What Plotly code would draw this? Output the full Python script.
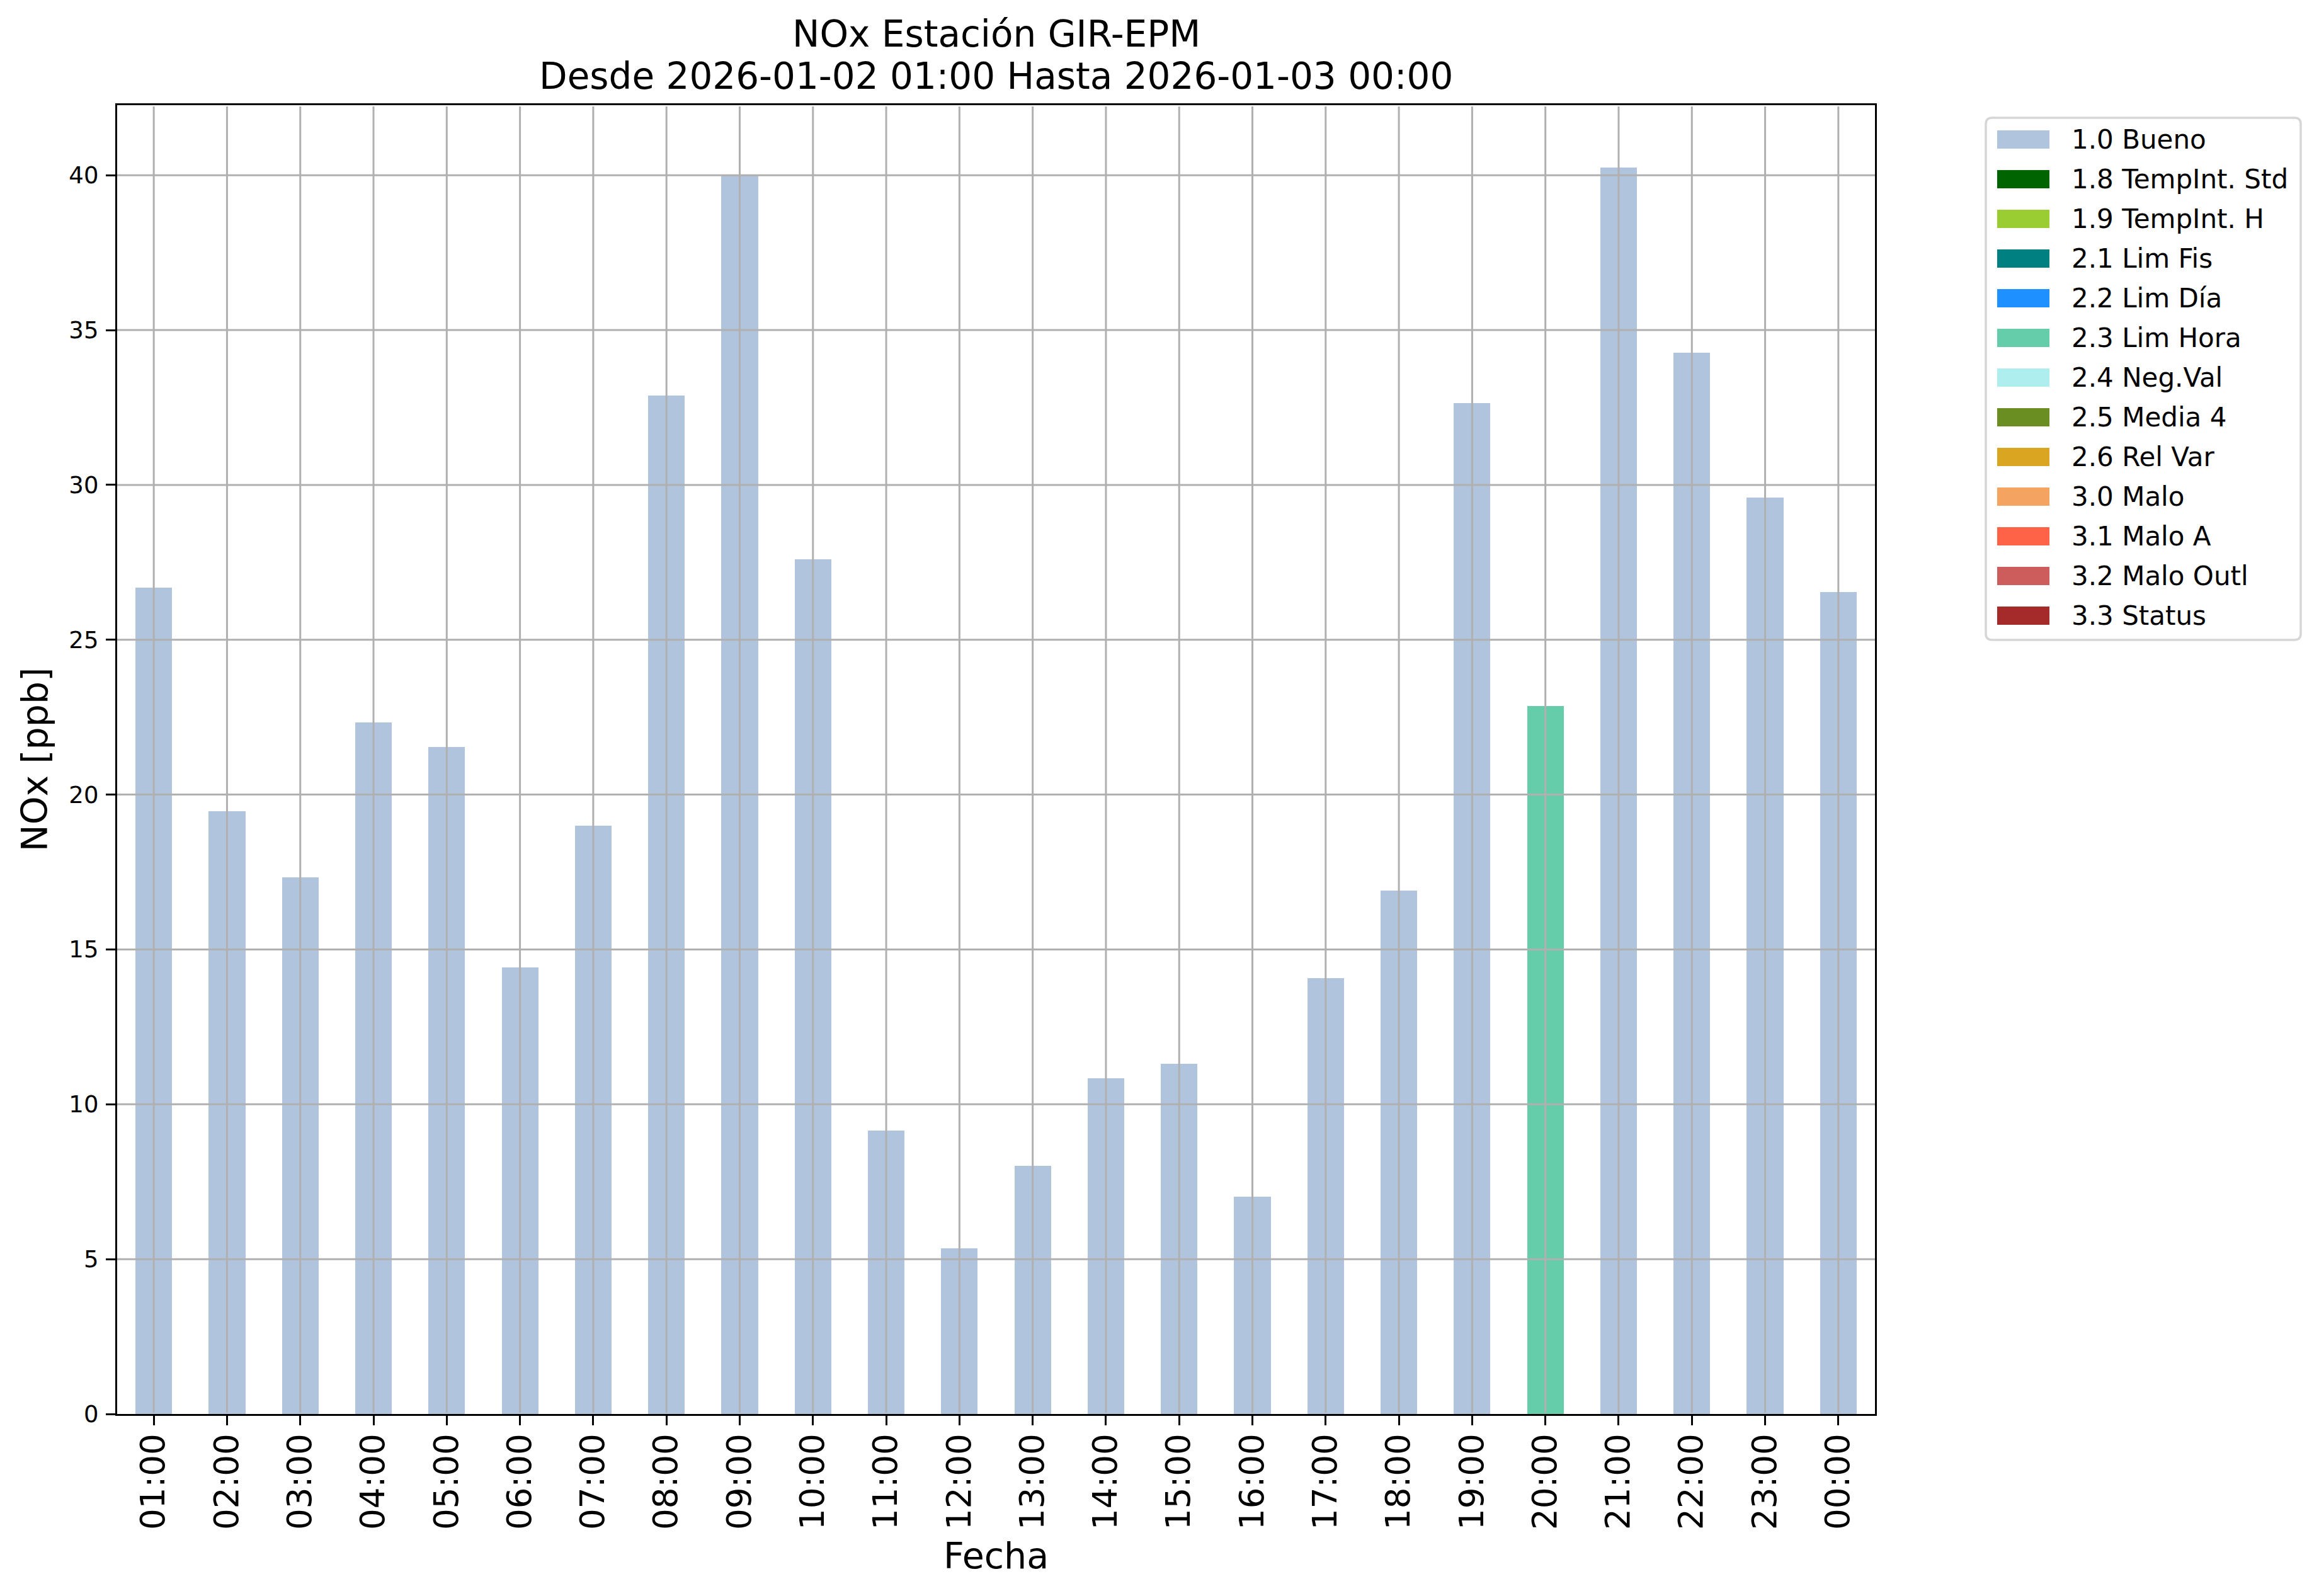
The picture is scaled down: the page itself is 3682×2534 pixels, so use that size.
import plotly.graph_objects as go

# ---------------- data ----------------
hours = ["01:00", "02:00", "03:00", "04:00", "05:00", "06:00", "07:00", "08:00",
         "09:00", "10:00", "11:00", "12:00", "13:00", "14:00", "15:00", "16:00",
         "17:00", "18:00", "19:00", "20:00", "21:00", "22:00", "23:00", "00:00"]
nox = [26.68, 19.47, 17.33, 22.34, 21.53, 14.42, 19.00, 32.89,
       40.00, 27.59, 9.16, 5.35, 8.02, 10.84, 11.31, 7.02,
       14.08, 16.90, 32.65, 22.86, 40.25, 34.27, 29.59, 26.54]
flags = ["1.0 Bueno"] * 19 + ["2.3 Lim Hora"] + ["1.0 Bueno"] * 4

categories = ["1.0 Bueno", "1.8 TempInt. Std", "1.9 TempInt. H", "2.1 Lim Fis",
              "2.2 Lim Día", "2.3 Lim Hora", "2.4 Neg.Val", "2.5 Media 4",
              "2.6 Rel Var", "3.0 Malo", "3.1 Malo A", "3.2 Malo Outl", "3.3 Status"]
cat_colors = ["#B0C4DE", "#006400", "#9ACD32", "#008080", "#1E90FF", "#66CDAA",
              "#AFEEEE", "#6B8E23", "#DAA520", "#F4A460", "#FF6347", "#CD5C5C",
              "#A52A2A"]
yticks = [0, 5, 10, 15, 20, 25, 30, 35, 40]

title_line1 = "NOx Estación GIR-EPM"
title_line2 = "Desde 2026-01-02 01:00 Hasta 2026-01-03 00:00"
xlabel = "Fecha"
ylabel = "NOx [ppb]"

# ---------------- geometry (pixels) ----------------
W_FIG, H_FIG = 3682, 2534
L, R, T, B = 186, 2977, 167, 2245
PW, PH = R - L, B - T
FONT = "DejaVu Sans"


def px2x(px):
    return (px - L) / PW


def py2y(py):
    return (B - py) / PH


fig = go.Figure()
for cat, col in zip(categories, cat_colors):
    ys = [v if f == cat else None for v, f in zip(nox, flags)]
    if any(y is not None for y in ys):
        fig.add_trace(go.Bar(x=hours, y=ys, name=cat, width=0.5,
                             marker=dict(color=col, line=dict(width=0)),
                             showlegend=False))

ymax = max(nox) * 1.05

# grid lines drawn above the bars (as in the reference)
grid_col = "#b0b0b0"
inset = 2 / PH
for yv in yticks[1:]:
    fig.add_shape(type="line", xref="paper", yref="y", x0=0, x1=1, y0=yv, y1=yv,
                  line=dict(color=grid_col, width=3), layer="above")
for h in hours:
    fig.add_shape(type="line", xref="x", yref="paper", x0=h, x1=h, y0=inset, y1=1 - inset,
                  line=dict(color=grid_col, width=3), layer="above")

axis_common = dict(showline=True, linecolor="black", linewidth=3.3, mirror=True,
                   ticks="outside", ticklen=15, tickwidth=3.3, tickcolor="black",
                   showgrid=False, zeroline=False)

fig.update_layout(
    width=W_FIG, height=H_FIG,
    paper_bgcolor="white", plot_bgcolor="white",
    barmode="overlay", bargap=0,
    margin=dict(l=L, r=W_FIG - R, t=T, b=H_FIG - B, autoexpand=False),
    font=dict(family=FONT, color="black"),
    xaxis=dict(type="category", categoryorder="array", categoryarray=hours,
               range=[-0.5, len(hours) - 0.5], tickangle=-90,
               tickfont=dict(family=FONT, size=53, color="black"),
               ticklabelstandoff=-8, **axis_common),
    yaxis=dict(range=[0, ymax], tickvals=yticks, ticktext=[str(v) for v in yticks],
               tickfont=dict(family=FONT, size=37, color="black"),
               ticklabelstandoff=4, **axis_common),
)

# titles
fig.add_annotation(text=title_line1, xref="paper", yref="paper", x=0.5, y=py2y(54),
                   xanchor="center", yanchor="middle", showarrow=False,
                   font=dict(family=FONT, size=58, color="black"))
fig.add_annotation(text=title_line2, xref="paper", yref="paper", x=0.5, y=py2y(121),
                   xanchor="center", yanchor="middle", showarrow=False,
                   font=dict(family=FONT, size=58, color="black"))
fig.add_annotation(text=xlabel, xref="paper", yref="paper", x=0.5, y=py2y(2470),
                   xanchor="center", yanchor="middle", showarrow=False,
                   font=dict(family=FONT, size=57, color="black"))
fig.add_annotation(text=ylabel, xref="paper", yref="paper", x=px2x(55), y=0.5,
                   xanchor="center", yanchor="middle", showarrow=False, textangle=-90,
                   font=dict(family=FONT, size=57, color="black"))

# ---------------- legend (drawn by hand to match wide patches) ----------------
bx0, bx1, by0, by1 = 3153, 3653, 187, 1016
r = 10
rx, ry = r / PW, r / PH
X0, X1, Y0, Y1 = px2x(bx0), px2x(bx1), py2y(by1), py2y(by0)
path = (f"M {X0 + rx},{Y0} L {X1 - rx},{Y0} Q {X1},{Y0} {X1},{Y0 + ry} "
        f"L {X1},{Y1 - ry} Q {X1},{Y1} {X1 - rx},{Y1} L {X0 + rx},{Y1} "
        f"Q {X0},{Y1} {X0},{Y1 - ry} L {X0},{Y0 + ry} Q {X0},{Y0} {X0 + rx},{Y0} Z")
fig.add_shape(type="path", xref="paper", yref="paper", path=path,
              line=dict(color="#d6d6d6", width=3.5), fillcolor="white", layer="above")

row0, step, ph = 221.5, 63, 29
for i, (cat, col) in enumerate(zip(categories, cat_colors)):
    cy = row0 + i * step
    fig.add_shape(type="rect", xref="paper", yref="paper",
                  x0=px2x(3171), x1=px2x(3254), y0=py2y(cy + ph / 2), y1=py2y(cy - ph / 2),
                  line=dict(width=0), fillcolor=col, layer="above")
    fig.add_annotation(text=cat, xref="paper", yref="paper", x=px2x(3287), y=py2y(cy),
                       xanchor="left", yanchor="middle", showarrow=False,
                       font=dict(family=FONT, size=42, color="black"))

fig.write_html("out.html", post_script="document.body.style.margin='0';",
               config={"displayModeBar": False})
